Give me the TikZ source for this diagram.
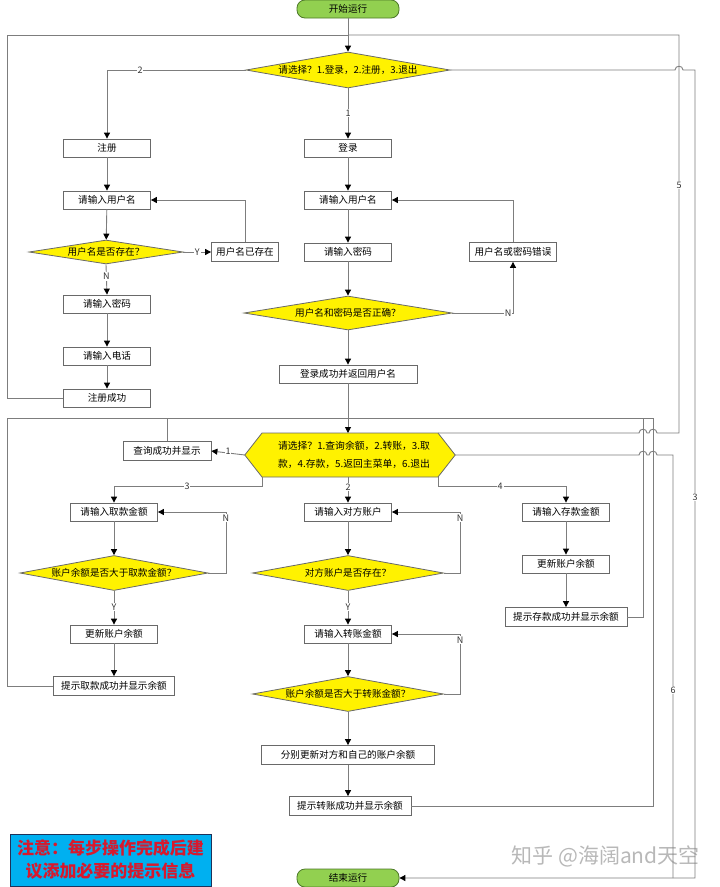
\documentclass[tikz,border=0pt]{standalone}
\usepackage{fontspec}
\setmainfont{Noto Sans CJK SC}
\usetikzlibrary{arrows.meta,shapes.geometric}
\definecolor{lc}{RGB}{125,125,125}
\definecolor{bc}{RGB}{105,105,105}
\definecolor{tfill}{RGB}{146,208,80}
\definecolor{tdraw}{RGB}{76,120,40}
\definecolor{nfill}{RGB}{0,176,240}
\definecolor{ndraw}{RGB}{30,50,90}
\definecolor{ntext}{RGB}{215,25,45}
\begin{document}
\begin{tikzpicture}[x=1pt,y=-1pt,
  box/.style={draw=bc, line width=0.8pt, fill=white, minimum width=87pt, minimum height=18pt, inner sep=0pt, font=\fontsize{9.6}{11}\selectfont},
  dia/.style={diamond, draw=bc, line width=0.8pt, fill=yellow, inner sep=0pt},
  dtext/.style={font=\fontsize{9.6}{11}\selectfont},
  term/.style={draw=tdraw, line width=0.8pt, fill=tfill, rounded corners=8pt, minimum width=102pt, minimum height=18pt, inner sep=0pt, font=\fontsize{9.6}{11}\selectfont},
  conn/.style={draw=lc, line width=0.9pt},
  arr/.style={conn, -{Triangle[length=6pt,width=6pt,color=black]}},
  lab/.style={fill=white, inner sep=1pt, font=\fontsize{9}{10}\selectfont, text=black!80}
]
\useasboundingbox (0,0) rectangle (720,887);

% ---------- nodes ----------
\node[term] (start) at (348,9) {开始运行};
\node[dia, minimum width=204pt, minimum height=36pt, label={[dtext]center:请选择？1.登录，2.注册，3.退出}] (d1) at (348,70) {};

\node[box] (reg) at (107,148) {注册};
\node[box] (ru) at (107,200) {请输入用户名};
\node[dia, minimum width=154pt, minimum height=24pt, label={[dtext]center:用户名是否存在？}] (d2) at (106,252) {};
\node[box, minimum width=67pt, minimum height=19pt] (exist) at (245,252) {用户名已存在};
\node[box] (rp) at (107,304) {请输入密码};
\node[box] (rt) at (107,356) {请输入电话};
\node[box] (rok) at (107,398) {注册成功};

\node[box] (login) at (348,148) {登录};
\node[box] (lu) at (348,200) {请输入用户名};
\node[box] (lp) at (348,252) {请输入密码};
\node[dia, minimum width=208pt, minimum height=34pt, label={[dtext]center:用户名和密码是否正确？}] (d3) at (348,313) {};
\node[box, minimum height=19pt] (err) at (513,252) {用户名或密码错误};
\node[box, minimum width=138pt] (lok) at (348,374) {登录成功并返回用户名};

% menu hexagon
\node[minimum width=210pt, minimum height=44pt, inner sep=0pt] (menu) at (350,455) {};
\coordinate (mtl) at (262,433);
\coordinate (mtr) at (438,433);
\coordinate (mbl) at (262,477);
\coordinate (mbr) at (438,477);
\draw[draw=bc, line width=0.8pt, fill=yellow] (menu.west) -- (mtl) -- (mtr) -- (menu.east) -- (mbr) -- (mbl) -- cycle;
\node[align=left, font=\fontsize{9.8}{18}\selectfont] (menutext) at (354,455) {请选择？1.查询余额，2.转账，3.取\\款，4.存款，5.返回主菜单，6.退出};

\node[box, minimum width=88pt, minimum height=19pt] (query) at (167,451) {查询成功并显示};

\node[box] (wa) at (114,512) {请输入取款金额};
\node[dia, minimum width=188pt, minimum height=35pt, label={[dtext]center:账户余额是否大于取款金额？}] (d4) at (114,573) {};
\node[box] (wu) at (114,634) {更新账户余额};
\node[box, minimum width=121pt, minimum height=19pt] (wok) at (114,686) {提示取款成功并显示余额};

\node[box] (ta) at (348,512) {请输入对方账户};
\node[dia, minimum width=191pt, minimum height=35pt, label={[dtext]center:对方账户是否存在？}] (d5) at (348,573) {};
\node[box] (tm) at (348,634) {请输入转账金额};
\node[dia, minimum width=191pt, minimum height=35pt, label={[dtext]center:账户余额是否大于转账金额？}] (d6) at (348,694) {};
\node[box, minimum width=173pt, minimum height=19pt] (tu) at (348,755) {分别更新对方和自己的账户余额};
\node[box, minimum width=122pt, minimum height=19pt] (tok) at (350,806) {提示转账成功并显示余额};

\node[box] (da) at (566,512) {请输入存款金额};
\node[box] (du) at (566,564) {更新账户余额};
\node[box, minimum width=122pt, minimum height=19pt] (dok) at (566,617) {提示存款成功并显示余额};

\node[term] (end) at (348,878) {结束运行};

\node[draw=ndraw, line width=0.8pt, fill=nfill, minimum width=201pt, minimum height=52pt, align=center, text=ntext, font=\fontsize{17}{23}\selectfont\bfseries] (note) at (110.5,860) {注意：每步操作完成后建\\议添加必要的提示信息};

\node[anchor=west, text=black!28, font=\fontsize{21}{24}\selectfont] (wm) at (508,856) {知乎 @海阔and天空};

% ---------- connectors ----------
\coordinate (topj) at (348,35);
\coordinate (mj) at (348,418);

\draw[arr] (start) -- (d1);
\draw[conn] (rok.west) -| (7,35) -- (topj);
\draw[conn] (mtr) -- (639,433) .. controls (639,428) and (647,428) .. (647,433) -- (649,433) .. controls (649,428) and (657,428) .. (657,433) -- (679,433) -- (679,35) -- (topj);
\node[lab] at (679,185) {5};

\draw[arr] (d1.west) -| (reg.north);
\node[lab] at (140,70) {2};
\draw[arr] (d1.south) -- (login.north);
\node[lab] at (348,113) {1};
\draw[arr] (d1.east) -- (675,70) .. controls (675,65) and (683,65) .. (683,70) -- (695,70) -- (695,878) -- (end.east);
\node[lab] at (695,497) {3};
\draw[conn] (menu.east) -- (639,455) .. controls (639,450) and (647,450) .. (647,455) -- (649,455) .. controls (649,450) and (657,450) .. (657,455) -- (673,455) -- (673,878);
\node[lab] at (673,690) {6};

\draw[arr] (reg) -- (ru);
\draw[arr] (ru) -- (d2);
\draw[arr] (d2.east) -- node[lab]{Y} (exist.west);
\draw[arr] (exist.north) |- (ru.east);
\draw[arr] (d2.south) -- node[lab, pos=0.4]{N} (rp.north);
\draw[arr] (rp) -- (rt);
\draw[arr] (rt) -- (rok);

\draw[arr] (login) -- (lu);
\draw[arr] (lu) -- (lp);
\draw[arr] (lp) -- (d3);
\draw[arr] (d3.east) -| (err.south);
\node[lab] at (508,313) {N};
\draw[arr] (err.north) |- (lu.east);
\draw[arr] (d3.south) -- (lok.north);
\draw[arr] (lok.south) -- (lok.south |- mtl);

\draw[conn] (wok.west) -| (7,418) -- (mj);
\draw[conn] (query.north) -- (query.north |- mj);
\draw[conn] (dok.east) -| (643,418);
\draw[conn] (tok.east) -| (653,418) -- (mj);

\draw[arr] (menu.west) -- (query.east);
\node[lab] at (228,451) {1};
\draw[arr] (mbl) -- (262,486) -| (wa.north);
\node[lab] at (187,486) {3};
\draw[arr] (lok.south |- mbl) -- (ta.north);
\node[lab] at (348,487) {2};
\draw[arr] (mbr) -- (438,486) -| (da.north);
\node[lab] at (500,486) {4};

\draw[arr] (wa) -- (d4);
\draw[arr] (d4.south) -- (wu.north);
\node[lab] at (114,607) {Y};
\draw[arr] (wu) -- (wok);
\draw[arr] (d4.east) -- (226,573) -- (226,512) -- (wa.east);
\node[lab] at (226,518) {N};

\draw[arr] (ta) -- (d5);
\draw[arr] (d5.south) -- (tm.north);
\node[lab] at (348,607) {Y};
\draw[arr] (tm) -- (d6);
\draw[arr] (d6.south) -- (tu.north);
\draw[arr] (tu.south) -- (tu.south |- tok.north);
\draw[arr] (d5.east) -- (460,573) -- (460,512) -- (ta.east);
\node[lab] at (460,518) {N};
\draw[arr] (d6.east) -- (460,694) -- (460,634) -- (tm.east);
\node[lab] at (460,640) {N};

\draw[arr] (da) -- (du);
\draw[arr] (du) -- (dok);
\end{tikzpicture}
\end{document}
